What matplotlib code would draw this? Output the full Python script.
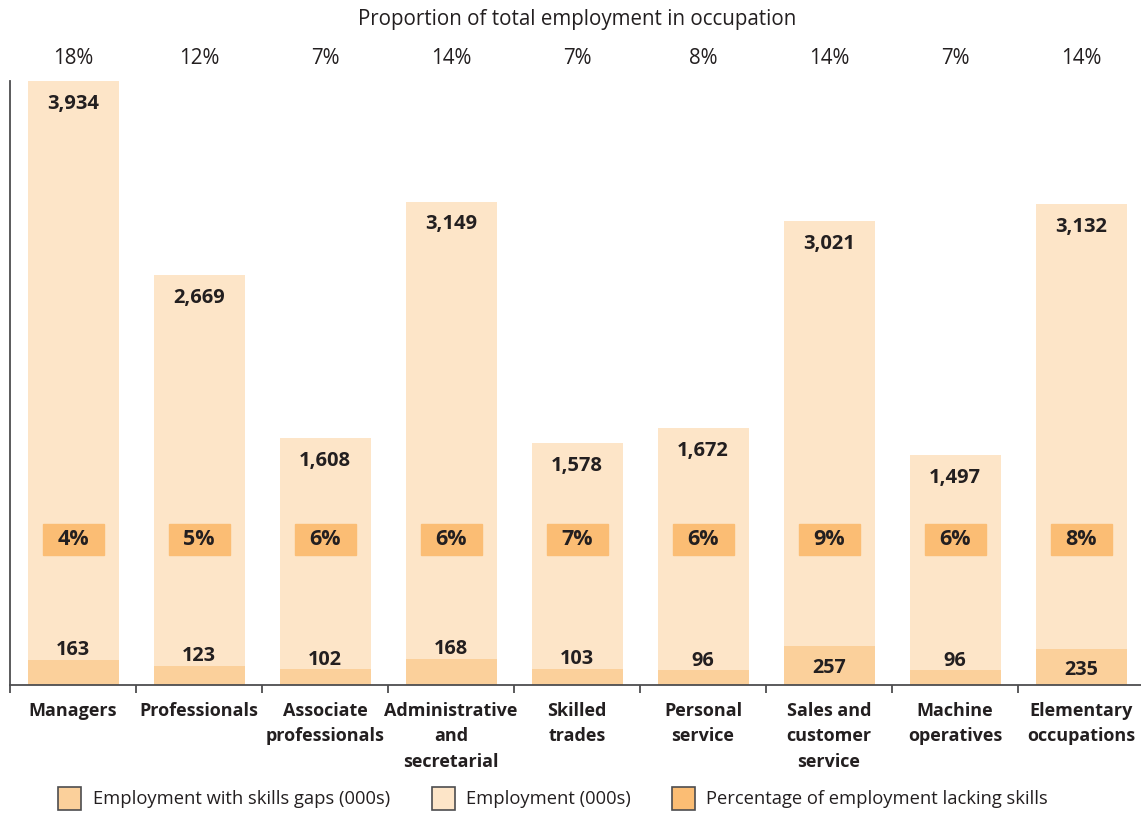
import matplotlib
matplotlib.use("Agg")
import matplotlib.pyplot as plt
from matplotlib.patches import Rectangle
from matplotlib.transforms import blended_transform_factory
import numpy as np

plt.rcParams['font.family'] = ['Open Sans', 'DejaVu Sans']

categories = ["Managers", "Professionals", "Associate\nprofessionals",
              "Administrative\nand\nsecretarial", "Skilled\ntrades",
              "Personal\nservice", "Sales and\ncustomer\nservice",
              "Machine\noperatives", "Elementary\noccupations"]
employment = [3934, 2669, 1608, 3149, 1578, 1672, 3021, 1497, 3132]
skills_gaps = [163, 123, 102, 168, 103, 96, 257, 96, 235]
pct_lacking = [4, 5, 6, 6, 7, 6, 9, 6, 8]
share_of_total = [18, 12, 7, 14, 7, 8, 14, 7, 14]

C_EMP = "#FDE5C8"
C_GAP = "#FBD09B"
C_PCT = "#FBBD74"
C_TXT = "#231F20"
C_AX = "#4D4D4F"

W, H = 1141, 814
fig = plt.figure(figsize=(W / 100, H / 100), dpi=100)
ax = fig.add_axes([10 / W, (H - 685) / H, 1134 / W, 604 / H])

x = np.arange(len(categories))
bw = 91 / 126
ax.bar(x, employment, width=bw, color=C_EMP, zorder=1)
ax.bar(x, skills_gaps, width=bw, color=C_GAP, zorder=2)

ax.set_xlim(-0.5, len(categories) - 0.5)
ax.set_ylim(0, max(employment))

for s in ["top", "right"]:
    ax.spines[s].set_visible(False)
for s in ["left", "bottom"]:
    ax.spines[s].set_color(C_AX)
    ax.spines[s].set_linewidth(1.3)
ax.set_yticks([])
ax.set_xticks(np.arange(-0.5, len(categories), 1.0))
ax.set_xticklabels([])
ax.tick_params(axis="x", length=6, width=1.3, color=C_AX)

# category names under the axis
for xi, name in zip(x, categories):
    ax.annotate(name, (xi, 0), xytext=(0, -12), textcoords="offset points",
                ha="center", va="top", fontsize=13, fontweight="bold",
                color=C_TXT, linespacing=1.55)

# total employment labels near the bar tops
for xi, v in zip(x, employment):
    ax.annotate(f"{v:,}", (xi, v), xytext=(0, -16.5), textcoords="offset points",
                ha="center", va="center", fontsize=14.5, fontweight="bold",
                color=C_TXT)

# skills-gap labels: inside tall bars, above short ones
for xi, v in zip(x, skills_gaps):
    if v > 200:
        ax.annotate(f"{v}", (xi, v / 2), xytext=(0, -2), textcoords="offset points",
                    ha="center", va="center", fontsize=14.3,
                    fontweight="bold", color=C_TXT, zorder=4)
    else:
        ax.annotate(f"{v}", (xi, v), xytext=(0, 7), textcoords="offset points",
                    ha="center", va="center", fontsize=14.3,
                    fontweight="bold", color=C_TXT, zorder=4)

# percentage-lacking boxes
tr = blended_transform_factory(ax.transData, ax.transAxes)
box_w = 61 / 126
box_h = 31 / 604
box_yc = (685 - 539.5) / 604
for xi, p in zip(x, pct_lacking):
    ax.add_patch(Rectangle((xi - box_w / 2, box_yc - box_h / 2), box_w, box_h,
                           transform=tr, color=C_PCT, zorder=3, clip_on=False))
    ax.text(xi, box_yc, f"{p}%", transform=tr, ha="center", va="center",
            fontsize=15.5, fontweight="bold", color=C_TXT, zorder=4)

# share of total employment along the top
trf = blended_transform_factory(ax.transData, fig.transFigure)
for xi, s in zip(x, share_of_total):
    ax.text(xi, 1 - 58 / H, f"{s}%", transform=trf, ha="center", va="center",
            fontsize=14.8, color=C_TXT)
fig.text(577 / W, 1 - 19 / H, "Proportion of total employment in occupation",
         ha="center", va="center", fontsize=14.8, color=C_TXT)

# legend
legend_items = [(58, 93, C_GAP, "Employment with skills gaps (000s)"),
                (432, 466, C_EMP, "Employment (000s)"),
                (672, 706, C_PCT, "Percentage of employment lacking skills")]
for sx, tx, col, lab in legend_items:
    fig.patches.append(Rectangle((sx / W, 1 - 810 / H), 23 / W, 23 / H,
                                 transform=fig.transFigure, facecolor=col,
                                 edgecolor=C_AX, linewidth=1.2))
    fig.text(tx / W, 1 - 799 / H, lab, ha="left", va="center",
             fontsize=13.2, color=C_TXT)

fig.savefig("out.png", dpi=100)
